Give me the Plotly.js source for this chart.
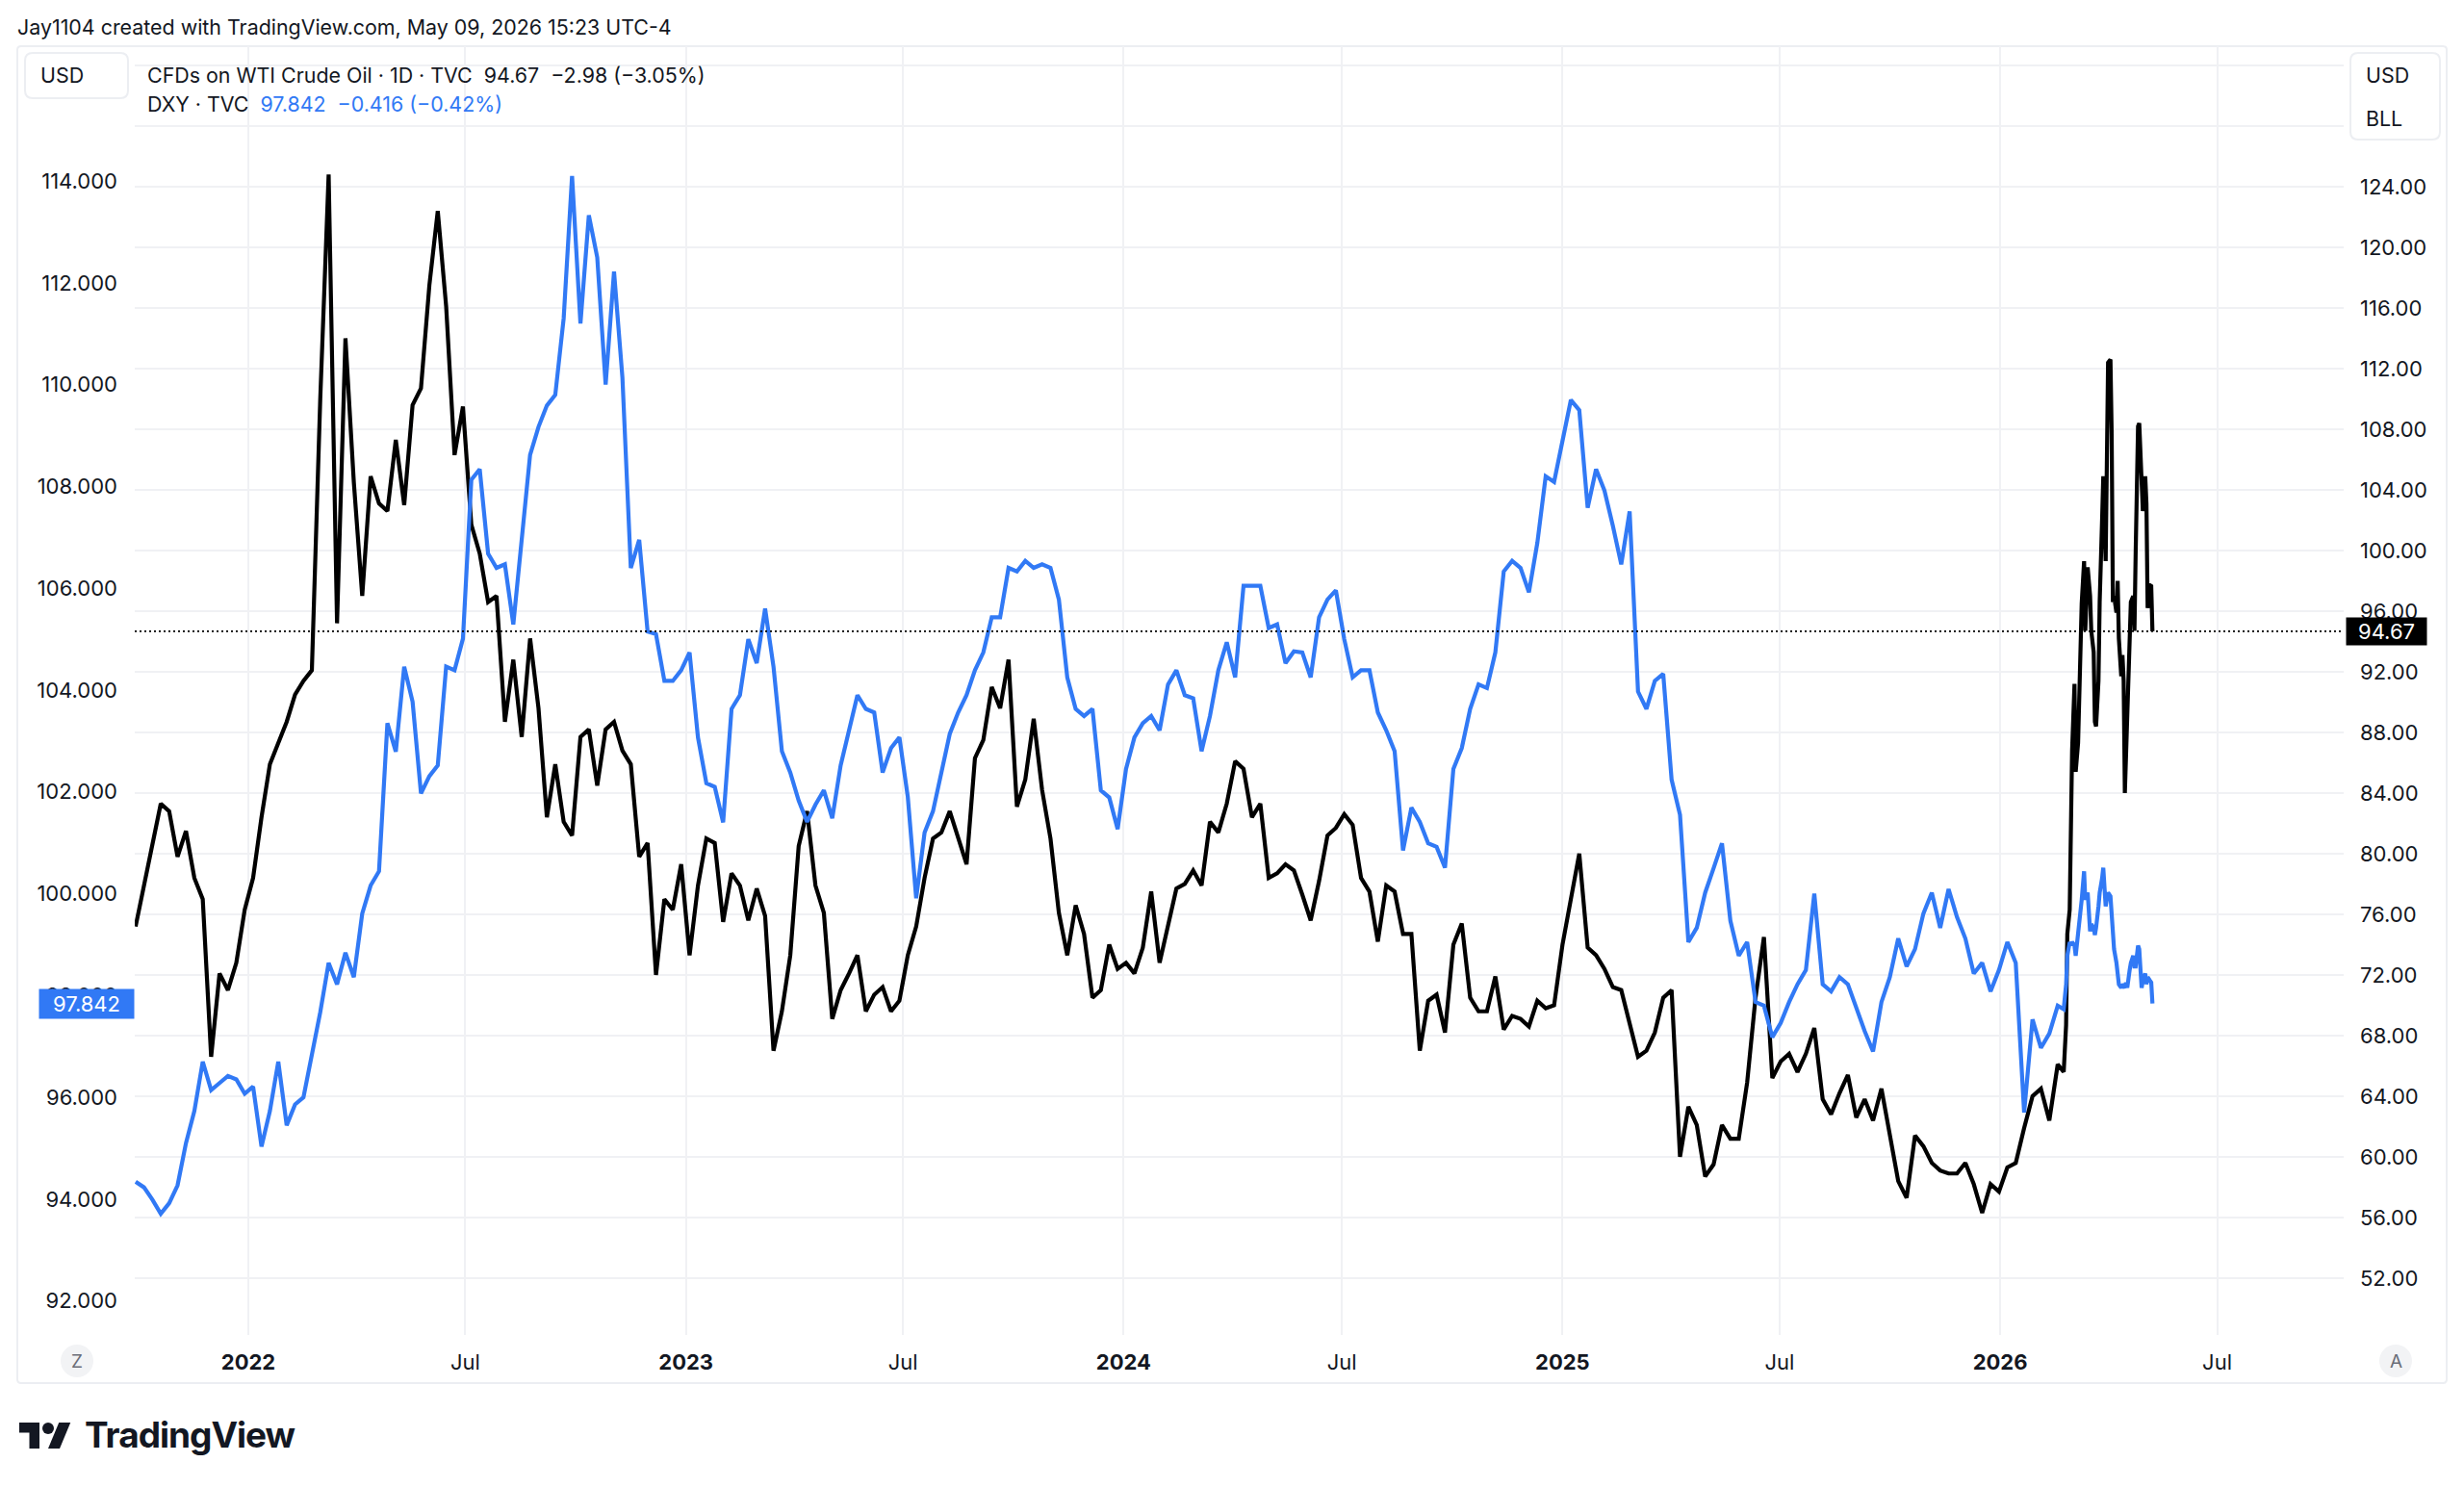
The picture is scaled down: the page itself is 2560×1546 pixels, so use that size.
<!DOCTYPE html>
<html>
<head>
<meta charset="utf-8">
<script src="https://cdn.plot.ly/plotly-3.0.1.min.js"></script>
<style>
  html, body { margin: 0; padding: 0; background: #ffffff; }
  #chart { position: absolute; left: 0; top: 0; width: 2560px; height: 1546px; }
  #logo { position: absolute; left: 20px; top: 1478px; height: 27px; }
  #logoText { position: absolute; left: 88px; top: 1472px; font-family: Inter, "Noto Sans", sans-serif;
              font-weight: 700; font-size: 37px; line-height: 37px; letter-spacing: -1px; color: #131722; }
</style>
</head>
<body>
<div id="chart"></div>
<svg id="logo" width="54" height="27" viewBox="0 4 36 18" xmlns="http://www.w3.org/2000/svg">
  <path d="M14 22H7V11H0V4h14v18z" fill="#131722"/>
  <circle cx="20" cy="8" r="4" fill="#131722"/>
  <path d="M28 22h-8l7.5-18h8L28 22z" fill="#131722"/>
</svg>
<div id="logoText">TradingView</div>
<script>
// ---------------- DATA ----------------
// weekly sampling grid starts here (one value per week)
const weekStart = '2021-09-29';

// CFDs on WTI Crude Oil (USD/BLL), weekly readings
const wtiWeekly = [
  75.2, 78.0, 80.7, 83.3, 82.8, 79.8, 81.5, 78.4, 77.0, 66.6,
  72.1, 71.0, 72.8, 76.3, 78.4, 82.4, 85.9, 87.3, 88.7, 90.5,
  91.4, 92.1, 110.0, 124.8, 95.2, 114.0, 104.5, 97.0, 104.9, 103.1,
  102.6, 107.3, 103.0, 109.6, 110.7, 117.5, 122.4, 116.1, 106.3, 109.5,
  101.7, 99.8, 96.6, 97.0, 88.7, 92.8, 87.7, 94.2, 89.6, 82.4,
  85.9, 82.1, 81.2, 87.7, 88.2, 84.5, 88.2, 88.7, 86.8, 85.9,
  79.8, 80.7, 72.0, 77.0, 76.3, 79.3, 73.3, 77.9, 81.0, 80.7,
  75.5, 78.7, 77.9, 75.6, 77.7, 75.9, 67.0, 69.6, 73.3, 80.5,
  82.8, 77.9, 76.1, 69.1, 71.0, 72.1, 73.3, 69.6, 70.7, 71.2,
  69.6, 70.3, 73.3, 75.2, 78.4, 81.0, 81.4, 82.8, 81.0, 79.3,
  86.3, 87.5, 91.0, 89.6, 92.8, 83.1, 84.9, 88.9, 84.2, 81.0,
  76.1, 73.3, 76.6, 74.7, 70.5, 71.0, 74.0, 72.4, 72.8, 72.1,
  73.8, 77.5, 72.8, 75.2, 77.7, 78.0, 78.9, 77.9, 82.1, 81.4,
  83.3, 86.1, 85.6, 82.4, 83.3, 78.4, 78.7, 79.3, 78.9, 77.3,
  75.6, 78.2, 81.2, 81.7, 82.6, 81.9, 78.4, 77.5, 74.2, 77.9,
  77.5, 74.7, 74.7, 67.0, 70.3, 70.7, 68.2, 74.0, 75.4, 70.5,
  69.6, 69.6, 71.9, 68.4, 69.3, 69.1, 68.6, 70.3, 69.8, 70.0,
  74.0, 77.0, 80.0, 73.8, 73.3, 72.4, 71.2, 71.0, 68.9, 66.6,
  67.0, 68.2, 70.5, 71.0, 60.0, 63.3, 62.1, 58.7, 59.5, 62.1,
  61.2, 61.2, 64.9, 70.5, 74.5, 65.2, 66.3, 66.8, 65.6, 66.8,
  68.5, 63.8, 62.8, 64.2, 65.4, 62.6, 63.8, 62.4, 64.5, 61.4,
  58.4, 57.3, 61.4, 60.7, 59.6, 59.1, 58.9, 58.9, 59.6, 58.2,
  56.3, 58.2, 57.7, 59.3, 59.6, 61.9, 64.0, 64.5, 62.4, 66.1
];

// U.S. Dollar Index (DXY), weekly readings
const dxyWeekly = [
  94.34, 94.23, 93.99, 93.71, 93.92, 94.27, 95.10, 95.73, 96.70, 96.14,
  96.28, 96.42, 96.35, 96.07, 96.21, 95.03, 95.73, 96.70, 95.45, 95.86,
  96.00, 96.83, 97.67, 98.64, 98.22, 98.84, 98.36, 99.61, 100.16, 100.44,
  103.35, 102.79, 104.46, 103.77, 101.97, 102.31, 102.52, 104.46, 104.39, 105.01,
  108.13, 108.34, 106.68, 106.40, 106.47, 105.29, 106.95, 108.62, 109.17, 109.59,
  109.80, 111.30, 114.10, 111.20, 113.33, 112.50, 110.00, 112.22, 110.14, 106.40,
  106.95, 105.15, 105.10, 104.18, 104.18, 104.39, 104.74, 103.07, 102.17, 102.10,
  101.40, 103.63, 103.90, 105.00, 104.53, 105.60, 104.46, 102.80, 102.38, 101.83,
  101.41, 101.75, 102.03, 101.48, 102.52, 103.21, 103.90, 103.63, 103.56, 102.38,
  102.86, 103.07, 101.90, 99.91, 101.20, 101.62, 102.38, 103.14, 103.56, 103.90,
  104.39, 104.74, 105.43, 105.43, 106.40, 106.33, 106.54, 106.40, 106.47, 106.40,
  105.78, 104.25, 103.63, 103.49, 103.63, 102.03, 101.89, 101.27, 102.45, 103.07,
  103.35, 103.49, 103.21, 104.11, 104.39, 103.90, 103.84, 102.80, 103.49, 104.39,
  104.94, 104.25, 106.05, 106.05, 106.05, 105.22, 105.29, 104.53, 104.76, 104.74,
  104.25, 105.43, 105.78, 105.96, 105.00, 104.25, 104.39, 104.39, 103.56, 103.21,
  102.80, 100.85, 101.69, 101.41, 100.99, 100.92, 100.51, 102.45, 102.86, 103.63,
  104.11, 104.04, 104.74, 106.33, 106.54, 106.40, 105.92, 106.89, 108.20, 108.09,
  108.90, 109.70, 109.50, 107.58, 108.34, 107.92, 107.23, 106.47, 107.51, 103.97,
  103.63, 104.18, 104.32, 102.24, 101.55, 99.05, 99.33, 100.02, 100.50, 100.99,
  99.47, 98.78, 99.05, 97.87, 97.80, 97.18, 97.46, 97.87, 98.22, 98.50,
  100.00, 98.22, 98.08, 98.36, 98.22, 97.73, 97.30, 96.90, 97.87, 98.36,
  99.12, 98.57, 98.91, 99.61, 100.02, 99.33, 100.09, 99.54, 99.12, 98.43,
  98.64, 98.08, 98.50, 99.05, 98.64, 95.70, 97.53, 96.97, 97.25, 97.80
];

// volatile final stretch, read at finer spacing
const lateDates = [
  '2026-02-23','2026-02-25','2026-02-26','2026-02-28','2026-03-01','2026-03-02','2026-03-04','2026-03-05',
  '2026-03-07','2026-03-09','2026-03-10','2026-03-12','2026-03-13','2026-03-15','2026-03-17','2026-03-18',
  '2026-03-20','2026-03-21','2026-03-22','2026-03-24','2026-03-25','2026-03-27','2026-03-28','2026-03-30',
  '2026-03-31','2026-04-01','2026-04-03','2026-04-04','2026-04-05','2026-04-06','2026-04-08','2026-04-09',
  '2026-04-10','2026-04-12','2026-04-13','2026-04-14','2026-04-15','2026-04-16','2026-04-17','2026-04-19',
  '2026-04-20','2026-04-22','2026-04-23','2026-04-24','2026-04-26','2026-04-27','2026-04-29','2026-04-30',
  '2026-05-02','2026-05-03','2026-05-04','2026-05-06','2026-05-07','2026-05-08'
];
const lateWti = [
  65.6, 68.7, 74.7, 76.3, 80.3, 86.8, 91.2, 85.4,
  87.3, 93.3, 96.5, 99.3, 94.7, 98.9, 97.0, 94.7,
  93.3, 88.7, 88.4, 91.4, 96.6, 102.0, 104.9, 99.3,
  107.7, 112.4, 112.6, 107.7, 96.6, 97.0, 95.9, 98.0,
  94.2, 91.7, 93.1, 91.4, 84.0, 86.3, 89.6, 93.3,
  96.6, 97.0, 94.7, 99.8, 108.2, 108.4, 104.9, 102.6,
  104.9, 103.1, 96.2, 97.7, 97.65, 94.67
];
const lateDxy = [
  97.73, 98.22, 98.78, 99.05, 98.98, 99.05, 98.98, 98.78,
  99.19, 99.54, 99.88, 100.44, 99.88, 100.02, 99.26, 99.40,
  99.33, 99.19, 99.33, 99.75, 100.02, 100.30, 100.51, 99.75,
  99.88, 100.02, 99.95, 99.47, 99.19, 98.91, 98.64, 98.43,
  98.22, 98.15, 98.22, 98.19, 98.15, 98.25, 98.15, 98.50,
  98.64, 98.78, 98.57, 98.57, 98.98, 98.91, 98.15, 98.29,
  98.43, 98.22, 98.36, 98.29, 98.258, 97.842
];

const lastWti = 94.67;
const lastDxy = 97.842;

// axis ticks
const xTickDates  = ['2022-01-01','2022-07-01','2023-01-01','2023-07-01','2024-01-01','2024-07-01','2025-01-01','2025-07-01','2026-01-01','2026-07-01'];
const xTickLabels = ['2022','Jul','2023','Jul','2024','Jul','2025','Jul','2026','Jul'];
const xTickBold   = [true,false,true,false,true,false,true,false,true,false];
const wtiTicks = [52,56,60,64,68,72,76,80,84,88,92,96,100,104,108,112,116,120,124,128,132];
const wtiLabelMax = 124;
const dxyTicks = [92,94,96,98,100,102,104,106,108,110,112,114];

// texts
const titleText = 'Jay1104 created with TradingView.com, May 09, 2026 15:23 UTC-4';
const wtiLegend = 'CFDs on WTI Crude Oil · 1D · TVC';
const wtiChange = '−2.98 (−3.05%)';
const dxyLegend = 'DXY · TVC';
const dxyChange = '−0.416 (−0.42%)';

// ---------------- BUILD ----------------
function weeklyDates(start, n) {
  const t0 = Date.parse(start + 'T00:00:00Z');
  const out = [];
  for (let k = 0; k < n; k++) out.push(new Date(t0 + k * 7 * 86400000).toISOString().slice(0, 10));
  return out;
}
const wtiX = weeklyDates(weekStart, wtiWeekly.length).concat(lateDates), wtiY = wtiWeekly.concat(lateWti);
const dxyX = weeklyDates(weekStart, dxyWeekly.length).concat(lateDates), dxyY = dxyWeekly.concat(lateDxy);

const W = 2560, H = 1546, L = 140, R = 2435, T = 48, B = 1387;
const PW = R - L, PH = B - T;
const px = x => (x - L) / PW;
const py = y => (B - y) / PH;
function rr(x0, y0, x1, y1, r) {
  const a = px(x0), b = px(x1), t = py(y0), u = py(y1), rx = r / PW, ry = r / PH;
  return `M${a+rx},${t} L${b-rx},${t} Q${b},${t} ${b},${t-ry} L${b},${u+ry} Q${b},${u} ${b-rx},${u} ` +
         `L${a+rx},${u} Q${a},${u} ${a},${u+ry} L${a},${t-ry} Q${a},${t} ${a+rx},${t} Z`;
}

const FONT = 'Inter, "Noto Sans", "DejaVu Sans", sans-serif';
const TXT = '#131722';
const BLUE = '#3179f5';
const GRID = '#f0f1f4';
const NB = '\u00a0\u00a0';

const traces = [
  { type: 'scatter', mode: 'lines', x: wtiX, y: wtiY, yaxis: 'y', xaxis: 'x',
    line: { color: '#000000', width: 4.2 }, hoverinfo: 'skip', name: 'WTI' },
  { type: 'scatter', mode: 'lines', x: dxyX, y: dxyY, yaxis: 'y2', xaxis: 'x',
    line: { color: BLUE, width: 4.2 }, hoverinfo: 'skip', name: 'DXY' }
];

const ann = (o) => Object.assign({ xref: 'paper', yref: 'paper', showarrow: false,
  xanchor: 'left', yanchor: 'middle', font: { family: FONT, size: 21.4, color: TXT } }, o);

const annotations = [
  ann({ x: px(16), y: py(28), text: titleText }),
  ann({ x: px(151), y: py(78), text: wtiLegend + NB + lastWti.toFixed(2) + NB + wtiChange }),
  ann({ x: px(151), y: py(108), text: dxyLegend + NB + `<span style="color:${BLUE}">` + lastDxy.toFixed(3) + NB + dxyChange + '</span>' }),
  ann({ x: px(40), y: py(78), text: 'USD' }),
  ann({ x: px(2456), y: py(78), text: 'USD' }),
  ann({ x: px(2456), y: py(123), text: 'BLL' }),
  ann({ x: px(80), y: py(1414), xanchor: 'center', text: 'Z', font: { family: FONT, size: 19, color: '#6a6d78' } }),
  ann({ x: px(2489), y: py(1414), xanchor: 'center', text: 'A', font: { family: FONT, size: 19, color: '#6a6d78' } }),
  ann({ x: px(2437), yref: 'y', y: lastWti, text: lastWti.toFixed(2), width: 83, height: 28, borderpad: 0,
        bgcolor: '#000000', font: { family: FONT, size: 22, color: '#ffffff' } }),
  ann({ x: px(40), yref: 'y2', y: lastDxy, text: lastDxy.toFixed(3), width: 98, height: 30, borderpad: 0,
        bgcolor: BLUE, font: { family: FONT, size: 22, color: '#ffffff' } })
];

const shapes = [
  { type: 'path', xref: 'paper', yref: 'paper', path: rr(18, 48, 2542, 1437, 4),
    line: { color: '#eceef2', width: 2 }, fillcolor: 'rgba(0,0,0,0)', layer: 'below' },
  { type: 'path', xref: 'paper', yref: 'paper', path: rr(26, 55, 133, 102, 8),
    line: { color: '#eceef2', width: 2 }, fillcolor: '#ffffff', layer: 'above' },
  { type: 'path', xref: 'paper', yref: 'paper', path: rr(2442, 55, 2535, 145, 8),
    line: { color: '#eceef2', width: 2 }, fillcolor: '#ffffff', layer: 'above' },
  { type: 'circle', xref: 'paper', yref: 'paper', x0: px(63), x1: px(97), y0: py(1431), y1: py(1397),
    line: { width: 0 }, fillcolor: '#f2f3f5', layer: 'above' },
  { type: 'circle', xref: 'paper', yref: 'paper', x0: px(2472), x1: px(2506), y0: py(1431), y1: py(1397),
    line: { width: 0 }, fillcolor: '#f2f3f5', layer: 'above' },
  { type: 'line', xref: 'paper', yref: 'y', x0: 0, x1: 1, y0: lastWti, y1: lastWti,
    line: { color: '#000000', width: 1.6, dash: '2px,3px' }, layer: 'above' }
];

const layout = {
  width: W, height: H,
  margin: { l: L, r: W - R, t: T, b: H - B, pad: 0 },
  paper_bgcolor: '#ffffff', plot_bgcolor: '#ffffff',
  font: { family: FONT, color: TXT },
  showlegend: false,
  xaxis: {
    type: 'date', range: ['2021-09-28 07:00', '2026-10-14 12:00'],
    tickmode: 'array', tickvals: xTickDates,
    ticktext: xTickLabels.map((t, i) => xTickBold[i] ? '<b>' + t + '</b>' : t),
    showgrid: true, gridcolor: GRID, gridwidth: 2, zeroline: false, showline: false,
    ticks: '', ticklabelstandoff: 13, tickfont: { family: FONT, size: 22, color: TXT }, fixedrange: true
  },
  yaxis: {
    side: 'right', range: [48.25, 133.27],
    tickmode: 'array', tickvals: wtiTicks,
    ticktext: wtiTicks.map(v => v <= wtiLabelMax ? v.toFixed(2) : ''),
    showgrid: true, gridcolor: GRID, gridwidth: 2, zeroline: false, showline: false,
    ticks: '', ticklabelstandoff: 16, tickfont: { family: FONT, size: 22, color: TXT }, fixedrange: true
  },
  yaxis2: {
    overlaying: 'y', side: 'left', range: [91.33, 116.65],
    tickmode: 'array', tickvals: dxyTicks, ticktext: dxyTicks.map(v => v.toFixed(3)),
    showgrid: false, zeroline: false, showline: false,
    ticks: '', ticklabelstandoff: 17, tickfont: { family: FONT, size: 22, color: TXT }, fixedrange: true
  },
  annotations: annotations,
  shapes: shapes
};

Plotly.newPlot('chart', traces, layout, { staticPlot: true, displayModeBar: false });
</script>
</body>
</html>
